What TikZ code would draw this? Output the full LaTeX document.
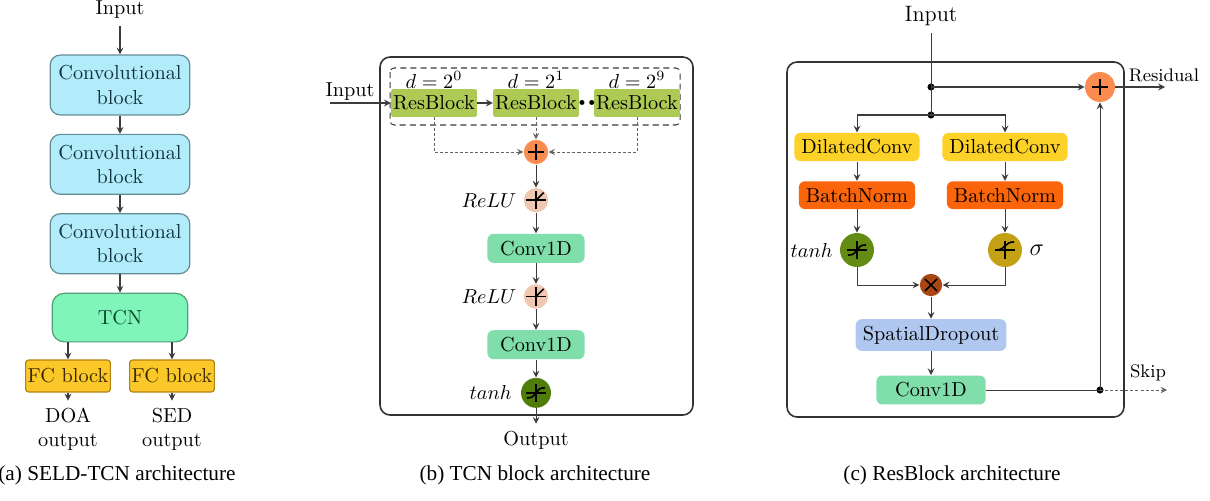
\documentclass[tikz,border=0pt]{standalone}
\usepackage{amsmath}
\usepackage{xcolor}
\usepackage{fontspec}
\newfontfamily\capfont{Liberation Serif}
\usepackage{tikz}
\usetikzlibrary{shapes.geometric, arrows, positioning}

\definecolor{convcyan}{RGB}{178,236,250}
\definecolor{convedge}{RGB}{100,140,150}
\definecolor{convtext}{RGB}{15,50,60}
\definecolor{tcnmint}{RGB}{128,245,185}
\definecolor{tcnedge}{RGB}{80,160,120}
\definecolor{tcntext}{RGB}{10,70,45}
\definecolor{fcgold}{RGB}{250,200,40}
\definecolor{fcedge}{RGB}{180,130,20}
\definecolor{fctext}{RGB}{60,40,0}
\definecolor{resgreen}{RGB}{172,202,84}
\definecolor{plusorange}{RGB}{250,140,80}
\definecolor{relupeach}{RGB}{240,200,178}
\definecolor{convgreen}{RGB}{128,222,170}
\definecolor{tanhdark}{RGB}{80,125,10}
\definecolor{tanhlight}{RGB}{100,140,20}
\definecolor{siggold}{RGB}{195,160,20}
\definecolor{multbrown}{RGB}{170,70,20}
\definecolor{dilyellow}{RGB}{252,210,40}
\definecolor{bnorange}{RGB}{250,100,10}
\definecolor{dropblue}{RGB}{176,200,240}
\definecolor{linegray}{RGB}{60,60,60}
\definecolor{framegray}{RGB}{50,50,50}

\newcommand{\actaxes}{\draw (-5pt,0pt) -- (5pt,0pt) (0pt,-4.5pt) -- (0pt,4.5pt);}
\newcommand{\reluglyph}{\actaxes \draw (0pt,0pt) -- (3.8pt,3.8pt);}
\newcommand{\tanhglyph}{\actaxes \draw (-4.5pt,-2.5pt) .. controls (1pt,-2.8pt) and (-1pt,2.8pt) .. (4.5pt,2.5pt);}
\newcommand{\sigglyph}{\actaxes \draw (-4.5pt,0pt) .. controls (0.5pt,0pt) and (-0.5pt,4pt) .. (4.5pt,4pt);}
\newcommand{\plusglyph}{\draw (-4pt,0pt) -- (4pt,0pt) (0pt,-4pt) -- (0pt,4pt);}
\newcommand{\multglyph}{\draw (-3pt,-3pt) -- (3pt,3pt) (-3pt,3pt) -- (3pt,-3pt);}

\tikzset{
  glyph/.style 2 args={path picture={\begin{scope}[shift={(path picture bounding box.center)}, scale=#1, line width=0.8pt]#2\end{scope}}},
  actnode/.style={circle, inner sep=0pt},
  addnode/.style={actnode, fill=plusorange, minimum size=12pt, glyph={1}{\plusglyph}},
  addbig/.style={actnode, fill=plusorange, minimum size=14.8pt, glyph={1.2}{\plusglyph}},
  reluact/.style={actnode, fill=relupeach, minimum size=12pt, glyph={1}{\reluglyph}},
  tanhact/.style={actnode, fill=tanhdark, minimum size=14.8pt, glyph={1.2}{\tanhglyph}},
  tanhbig/.style={actnode, fill=tanhlight, minimum size=16.8pt, glyph={1.4}{\tanhglyph}},
  sigbig/.style={actnode, fill=siggold, minimum size=16.8pt, glyph={1.4}{\sigglyph}},
  mulnode/.style={actnode, fill=multbrown, minimum size=11pt, glyph={1}{\multglyph}},
}

\begin{document}
\begin{tikzpicture}[x=0.01736cm, y=-0.01736cm, node distance=23.8pt, >=stealth]

\tikzstyle{convblock} = [rectangle, rounded corners=5pt, minimum width=69pt, minimum height=29.6pt, align=center, draw=convedge, fill=convcyan, text=convtext, line width=0.6pt]
\tikzstyle{tcnblock} = [rectangle, rounded corners=6pt, minimum width=67pt, minimum height=24pt, draw=tcnedge, fill=tcnmint, text=tcntext, line width=0.6pt]
\tikzstyle{fcblock} = [rectangle, rounded corners=1.5pt, minimum width=41pt, minimum height=15.8pt, inner xsep=1pt, draw=fcedge, fill=fcgold, text=fctext, line width=0.6pt]
\tikzstyle{resblock} = [rectangle, rounded corners=1pt, minimum height=13.3pt, inner xsep=1pt, fill=resgreen]
\tikzstyle{layerbox} = [rectangle, rounded corners=3pt, minimum height=13.3pt, inner xsep=3.5pt]
\tikzstyle{conv1d} = [layerbox, fill=convgreen, minimum width=48pt, minimum height=14.3pt]
\tikzstyle{arrow} = [->, line width=0.5pt, draw=linegray]
\tikzstyle{dasharrow} = [arrow, line width=0.4pt, draw=linegray!80, dash pattern=on 1.5pt off 1pt]
\tikzstyle{wire} = [line width=0.5pt, draw=linegray]
\tikzstyle{outerbox} = [line width=0.8pt, draw=framegray, rounded corners=5pt]
\tikzstyle{junction} = [circle, fill=black, inner sep=0pt, minimum size=3.5pt]
\tikzstyle{captext} = [font=\capfont\fontsize{10.5}{12}\selectfont]

\useasboundingbox (0,0) rectangle (1210,500);

% (a) SELD-TCN architecture
\node (ina) at (120,10) {Input};
\node (conv1) [convblock] at (120,85) {Convolutional\\block};
\node (conv2) [convblock, below of=conv1, yshift=-15.4pt] {Convolutional\\block};
\node (conv3) [convblock, below of=conv2, yshift=-15.4pt] {Convolutional\\block};
\node (tcn) [tcnblock, below of=conv3, yshift=-12.7pt] {TCN};
\node (fcdoa) [fcblock] at (68,376) {FC block};
\node (fcsed) [fcblock] at (172,376) {FC block};
\node (doa) [align=center] at (68,429) {DOA\\output};
\node (sed) [align=center] at (172,429) {SED\\output};
\node (capa) [captext] at (117,475) {(a) SELD-TCN architecture};

\draw [arrow] (ina) -- (conv1);
\draw [arrow] (conv1) -- (conv2);
\draw [arrow] (conv2) -- (conv3);
\draw [arrow] (conv3) -- (tcn);
\draw [arrow] (tcn.south -| fcdoa) -- (fcdoa);
\draw [arrow] (tcn.south -| fcsed) -- (fcsed);
\draw [arrow] (fcdoa) -- (doa);
\draw [arrow] (fcsed) -- (sed);

% (b) TCN block architecture
\draw [outerbox] (380,57) rectangle (693,415);
\draw [linegray, densely dashed, line width=0.5pt, rounded corners=2pt] (390,68) rectangle (680,125);
\node (inb) at (350,92) {Input};
\coordinate (inbstart) at (330,103);
\node (rb0) [resblock] at (434,103) {ResBlock};
\node (rb1) [resblock] at (536,103) {ResBlock};
\node (rb9) [resblock] at (637,103) {ResBlock};
\node (d0) at (434,80) {$d=2^0$};
\node (d1) at (536,80) {$d=2^1$};
\node (d9) at (637,80) {$d=2^9$};
\node (dots) at (587,103) {\tiny${\bullet}\,{\bullet}$};
\node (sumb) [addnode] at (536,152) {};
\node (relub1) [reluact, below of=sumb] {};
\node (conv1b) [conv1d, below of=relub1] {Conv1D};
\node (relub2) [reluact, below of=conv1b] {};
\node (conv2b) [conv1d, below of=relub2] {Conv1D};
\node (tanhb) [tanhact, below of=conv2b] {};
\node (reluname1) [left=0pt of relub1] {$ReLU$};
\node (reluname2) [left=0pt of relub2] {$ReLU$};
\node (tanhname) [left=1pt of tanhb] {$tanh$};
\node (outb) at (536,440) {Output};
\node (capb) [captext] at (535,475) {(b) TCN block architecture};

\draw [arrow] (inbstart) -- (rb0);
\draw [arrow] (rb0) -- (rb1);
\draw [dasharrow] (rb0) |- (sumb);
\draw [dasharrow] (rb1) -- (sumb);
\draw [dasharrow] (rb9) |- (sumb);
\draw [arrow] (sumb) -- (relub1);
\draw [arrow] (relub1) -- (conv1b);
\draw [arrow] (conv1b) -- (relub2);
\draw [arrow] (relub2) -- (conv2b);
\draw [arrow] (conv2b) -- (tanhb);
\draw [arrow] (tanhb) -- (outb);

% (c) ResBlock architecture
\draw [outerbox] (787,62) rectangle (1124,417);
\node (inc) [font=\fontsize{11}{13}\selectfont] at (931,16) {Input};
\coordinate (jres) at (931,87);
\coordinate (jsplit) at (931,115);
\coordinate (jskip) at (1100,390);
\coordinate (resend) at (1165,87);
\coordinate (skipend) at (1167,390);
\node (sumc) [addbig] at (1100,87) {};
\node (dil1) [layerbox, fill=dilyellow] at (857,147) {DilatedConv};
\node (dil2) [layerbox, fill=dilyellow] at (1005,147) {DilatedConv};
\node (bn1) [layerbox, fill=bnorange, below of=dil1] {BatchNorm};
\node (bn2) [layerbox, fill=bnorange, below of=dil2] {BatchNorm};
\node (tanhc) [tanhbig] at (857,250) {};
\node (sigc) [sigbig] at (1005,250) {};
\node (tanhnamec) [left=0pt of tanhc] {$tanh$};
\node (signame) [right=0pt of sigc] {\large$\sigma$};
\node (multc) [mulnode] at (931,285) {};
\node (sdrop) [layerbox, fill=dropblue, minimum height=14.8pt] at (931,335) {SpatialDropout};
\node (conv1c) [conv1d, minimum width=54pt] at (931,390) {Conv1D};
\node (dotres) [junction] at (jres) {};
\node (dotsplit) [junction] at (jsplit) {};
\node (dotskip) [junction] at (jskip) {};
\node (reslab) [font=\small] at (1164,75) {Residual};
\node (skiplab) [font=\small] at (1148,373) {Skip};
\node (capc) [captext] at (952,475) {(c) ResBlock architecture};

\draw [wire] (inc) -- (jres);
\draw [wire] (jres) -- (jsplit);
\draw [arrow] (jres) -- (sumc);
\draw [arrow] (sumc) -- (resend);
\draw [arrow] (jsplit) -| (dil1);
\draw [arrow] (jsplit) -| (dil2);
\draw [arrow] (dil1) -- (bn1);
\draw [arrow] (dil2) -- (bn2);
\draw [arrow] (bn1) -- (tanhc);
\draw [arrow] (bn2) -- (sigc);
\draw [arrow] (tanhc) |- (multc);
\draw [arrow] (sigc) |- (multc);
\draw [arrow] (multc) -- (sdrop);
\draw [arrow] (sdrop) -- (conv1c);
\draw [wire] (conv1c) -- (jskip);
\draw [arrow] (jskip) -- (sumc);
\draw [dasharrow] (jskip) -- (skipend);

\end{tikzpicture}
\end{document}
